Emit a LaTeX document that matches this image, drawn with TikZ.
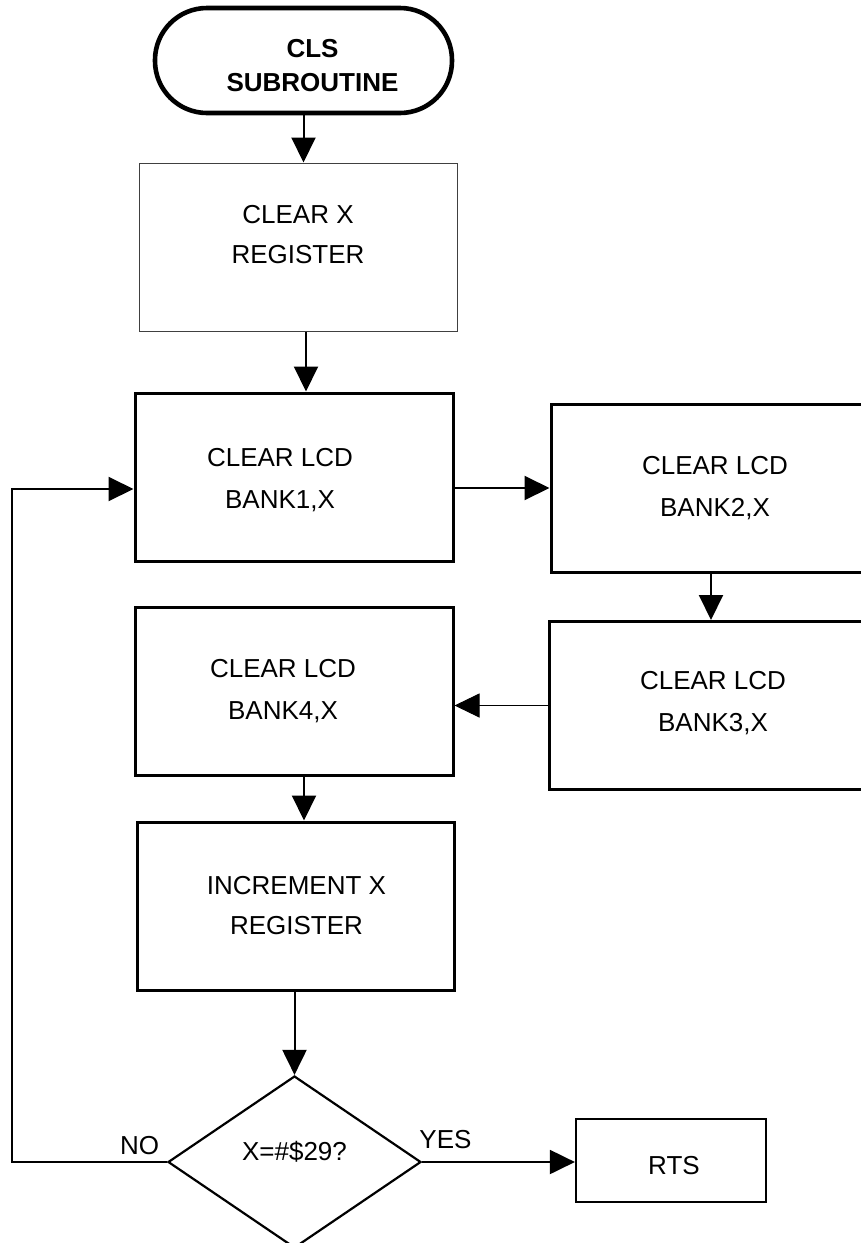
\documentclass[tikz,border=0pt]{standalone}
\usepackage{fontspec}
\setmainfont{Liberation Sans}
\usetikzlibrary{arrows.meta,positioning,shapes.geometric}

\tikzset{
  every node/.style={font=\fontsize{13}{21}\selectfont},
  proc/.style={draw, line width=1.5pt, inner sep=0pt, minimum width=159pt, minimum height=84pt},
  arr/.style={-{Triangle[length=12.5pt,width=12pt]}, line width=1pt},
}

\begin{document}
\begin{tikzpicture}[x=0.5pt, y=-0.5pt]
    \useasboundingbox (0,0) rectangle (861,1243);
    % Start
    \node[draw, line width=2.3pt, rounded corners=26pt, inner sep=0pt, minimum width=148.5pt, minimum height=52.5pt,
          label={[align=center, font=\fontsize{13}{17}\bfseries, xshift=4.5pt, yshift=-2.5pt]center:CLS\\SUBROUTINE}]
          (term) at (303.5,60.5) {};
    % Boxes
    \node[proc, line width=0.5pt, draw=black!75, label={[align=center, font=\fontsize{13}{20}\selectfont, yshift=6pt]center:CLEAR X\\REGISTER}]
          (clrx) at (298,247) {};
    \node[proc, label={[align=center, xshift=-7pt, yshift=-1.5pt]center:CLEAR LCD\\BANK1,X}] (bank1) at (294,477) {};
    \node[proc, minimum width=162pt, label={[align=center, xshift=1pt]center:CLEAR LCD\\BANK2,X}] (bank2) at (713,488) {};
    \node[proc, minimum width=162pt, label={[align=center, xshift=1pt, yshift=1pt]center:CLEAR LCD\\BANK3,X}] (bank3) at (711,705.5) {};
    \node[proc, label={[align=center, xshift=-5.5pt]center:CLEAR LCD\\BANK4,X}] (bank4) at (294,691.5) {};
    \node[proc, minimum width=158.5pt, label={[align=center, font=\fontsize{13}{20}\selectfont, xshift=0.5pt]center:INCREMENT X\\REGISTER}]
          (incr) at (295.5,906) {};
    % Decision
    \node[diamond, draw, line width=1.1pt, inner sep=0pt, minimum width=126.5pt, minimum height=86pt,
          label={[yshift=5pt]center:X=\#\$29?}] (dec) at (294.5,1162) {};
    \node[draw, line width=1.1pt, inner sep=0pt, minimum width=95pt, minimum height=41.5pt,
          label={[xshift=1.5pt, yshift=-2.5pt]center:RTS}] (rts) at (671,1160.5) {};
    \node[inner sep=0pt] (no) at (139.5,1145.5) {NO};
    \node[inner sep=0pt] (yes) at (445.5,1140) {YES};
    % Arrows
    \draw[arr] (term.south) -- (term.south |- clrx.north);
    \draw[arr] ([xshift=4pt]clrx.south) -- ([xshift=4pt]clrx.south |- bank1.north);
    \draw[arr] (bank2.west -| bank1.east) -- (bank2.west);
    \draw[arr] (bank3.north |- bank2.south) -- (bank3.north);
    \draw[arr, line width=0.5pt] (bank3.west) -- (bank3.west -| bank4.east);
    \draw[arr] ([xshift=5pt]bank4.south) -- ([xshift=5pt]bank4.south |- incr.north);
    \draw[arr] (incr.south -| dec.north) -- (dec.north);
    \draw[arr] (dec.east) -- (dec.east -| rts.west);
    % Loop back
    \coordinate (loop) at (12,1162);
    \draw[arr] (dec.west) -- (loop) |- ([yshift=-6pt]bank1.west);
\end{tikzpicture}
\end{document}
